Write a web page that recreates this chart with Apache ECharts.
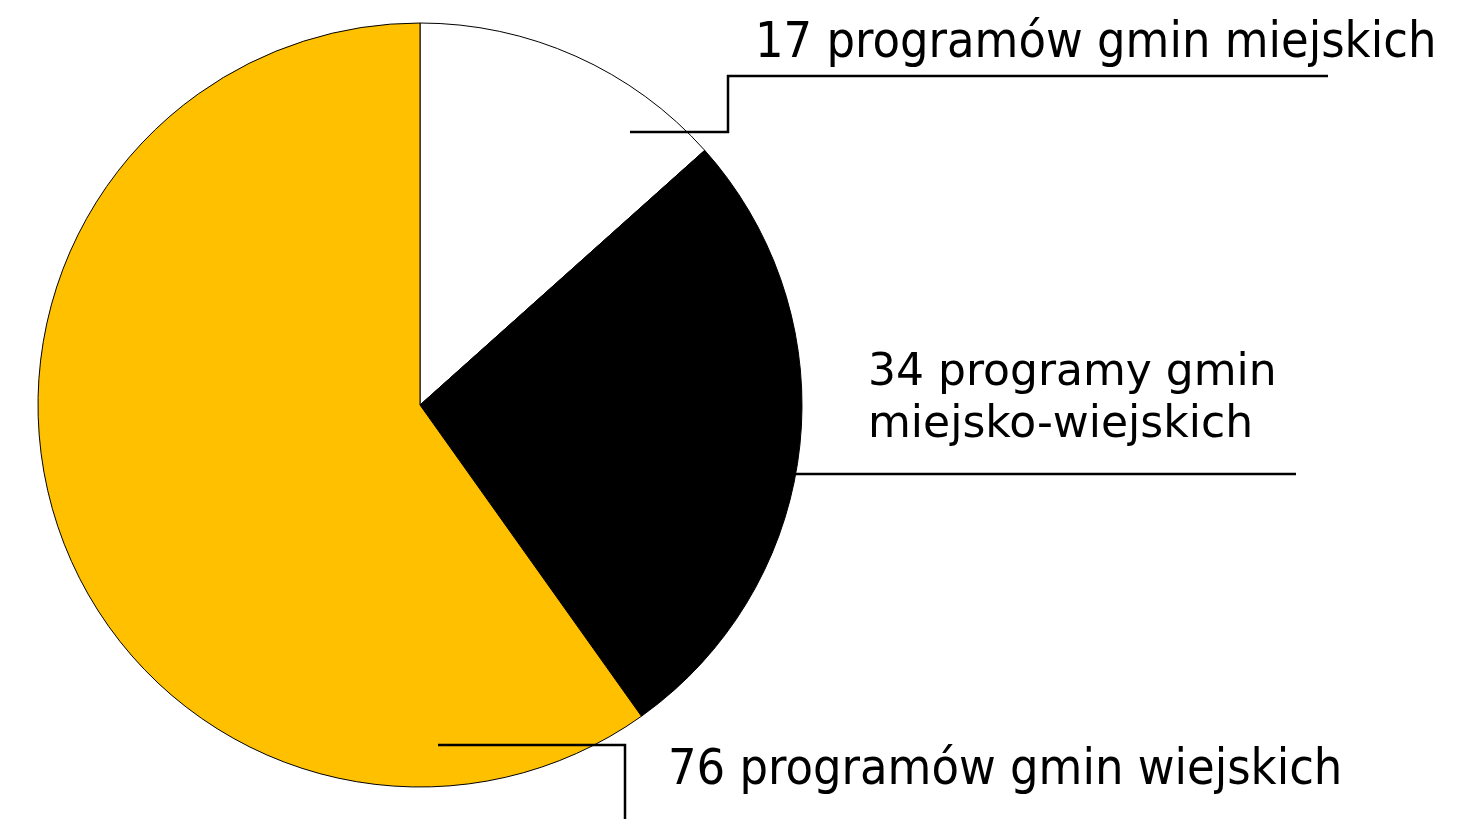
<!DOCTYPE html>
<html>
<head>
<meta charset="utf-8">
<script src="https://cdn.jsdelivr.net/npm/echarts@6/dist/echarts.min.js"></script>
<style>
  html, body { margin: 0; padding: 0; background: #fff; }
  #chart { width: 1477px; height: 819px; }
</style>
</head>
<body>
<div id="chart"></div>
<script>
// dane z wykresu
const names = ['gmin miejskich', 'gmin miejsko-wiejskich', 'gmin wiejskich']
const values = [17, 34, 76]
const labels = ['17 programów gmin miejskich', '34 programy gmin\nmiejsko-wiejskich', '76 programów gmin wiejskich']
const colors = ['#ffffff', '#000000', '#ffc000']

const chart = echarts.init(document.getElementById('chart'))

// pozycje etykiet i linii odniesienia (tylko adnotacje)
const labelPos = [
  { x: 755, y: 44, font: 'narrow', line: [[630, 132], [728, 132], [728, 76], [1328, 76]] },
  { x: 868, y: 400, font: 'wide', line: [[795, 474], [1000, 474], [1296, 474]] },
  { x: 668, y: 771, font: 'narrow', line: [[438, 745], [625, 745], [625, 819]] },
]

const narrowFont = '"Liberation Sans Narrow", "DejaVu Sans Condensed", sans-serif'
const wideFont = '"DejaVu Sans", sans-serif'

const pieBase = {
  type: 'pie',
  center: [420, 405],
  radius: [0, 382],
  startAngle: 90,
  clockwise: true,
  avoidLabelOverlap: false,
  emphasis: { disabled: true },
}

const option = {
  backgroundColor: '#fff',
  animation: false,
  series: [
    // wycinki
    {
      ...pieBase,
      z: 1,
      data: values.map((v, i) => ({
        name: names[i],
        value: v,
        itemStyle: { color: colors[i] },
      })),
      itemStyle: {
        borderColor: '#000',
        borderWidth: 1,
      },
      label: { show: false },
      labelLine: { show: false },
    },
    // etykiety z liniami nad wycinkami
    {
      ...pieBase,
      z: 5,
      silent: true,
      data: values.map((v, i) => ({
        name: names[i],
        value: v,
        label: {
          formatter: labels[i],
          fontFamily: labelPos[i].font === 'narrow' ? narrowFont : wideFont,
          fontSize: labelPos[i].font === 'narrow' ? 50 : 44,
        },
      })),
      itemStyle: {
        color: 'rgba(0,0,0,0)',
        borderWidth: 0,
      },
      label: {
        show: true,
        position: 'outside',
        color: '#000',
        lineHeight: 52,
        align: 'left',
      },
      labelLine: {
        show: true,
        smooth: false,
        lineStyle: { color: '#000', width: 2.5 },
      },
      labelLayout: (params) => {
        const p = labelPos[params.dataIndex]
        return {
          x: p.x,
          y: p.y,
          align: 'left',
          verticalAlign: 'middle',
          labelLinePoints: p.line,
        }
      },
    },
  ],
}

chart.setOption(option)
</script>
</body>
</html>
